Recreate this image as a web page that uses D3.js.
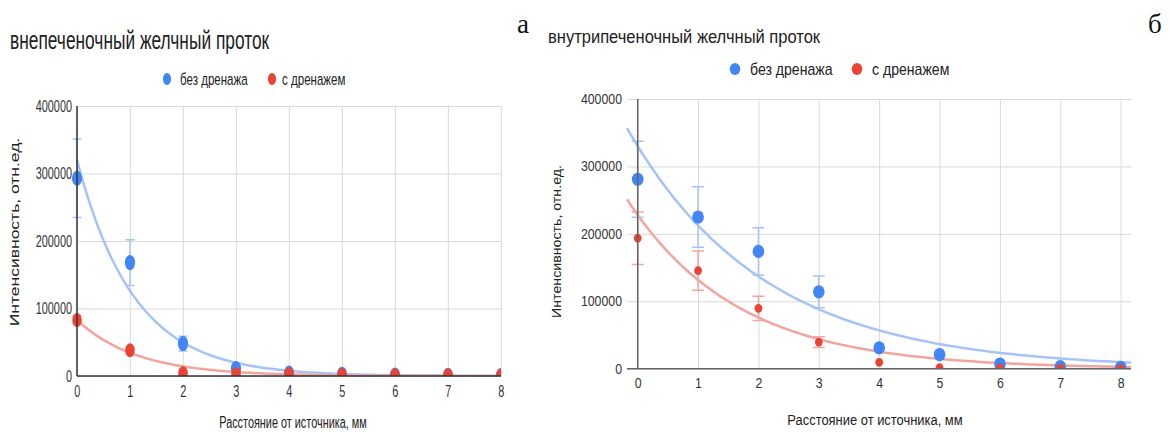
<!DOCTYPE html>
<html>
<head>
<meta charset="utf-8">
<script src="https://cdn.jsdelivr.net/npm/d3@7"></script>
<style>
	body { margin: 0; background: #fff; }
	text { font-family: "Liberation Sans", Arial, sans-serif; }
</style>
</head>
<body>
<div id="chart"></div>
<script>
// data
const distance = [0, 1, 2, 3, 4, 5, 6, 7, 8];
const yTicks = [0, 100000, 200000, 300000, 400000];
const seriesNames = ["без дренажа", "с дренажем"];
const panelTitles = ["внепеченочный желчный проток", "внутрипеченочный желчный проток"];
const panelLetters = ["а", "б"];
const xAxisTitle = "Расстояние от источника, мм";
const yAxisTitle = "Интенсивность, отн.ед.";

// extrahepatic duct (a)
const extraNoDrain = [293000, 168000, 48000, 11000, 4500, 2500, 1500, 1200, 800];
const extraNoDrainErr = [58000, 34000, 11000, 3000, 0, 0, 0, 0, 0];
const extraDrain = [83000, 38000, 4000, 2500, 2500, 1500, 1200, 1000, 800];
const extraDrainErr = [6000, 5000, 0, 0, 0, 0, 0, 0, 0];
const extraNoDrainTrend = [320000, 0.93]; // a * exp(-k x)
const extraDrainTrend = [83000, 0.88];

// intrahepatic duct (б)
const intraNoDrain = [281000, 225000, 174000, 114000, 31000, 21000, 7000, 3000, 2000];
const intraNoDrainErr = [56500, 45000, 35000, 23500, 0, 0, 0, 0, 0];
const intraDrain = [193500, 145500, 89500, 39500, 9500, 1500, 1000, 500, 300];
const intraDrainErr = [39000, 29000, 18000, 8000, 0, 0, 0, 0, 0];
const intraNoDrainTrend = [330000, 0.44];
const intraDrainTrend = [228000, 0.55];

const width = 1169, height = 432;
const blue = "#4285f4", red = "#ea4335";
const blueLight = "#a6c3f7", redLight = "#f3a49d";

const svg = d3.select("#chart").append("svg")
	.attr("width", width)
	.attr("height", height)
	.attr("viewBox", [0, 0, width, height]);

// panel letters
svg.selectAll(".letter")
	.data([[517, 33], [1148, 33]])
	.join("text")
	.attr("x", d => d[0])
	.attr("y", d => d[1])
	.attr("font-size", 27)
	.style("font-family", "'Liberation Serif', 'Times New Roman', serif")
	.attr("fill", "#111")
	.text((d, i) => panelLetters[i]);

// the source screenshot is squeezed horizontally, so each panel is drawn in a scaled group
function drawPanel(cfg) {
	const k = v => v / cfg.sx;
	const g = svg.append("g").attr("transform", `scale(${cfg.sx},1)`);

	const x = d3.scaleLinear([0, 8], [k(cfg.x0), k(cfg.x8)]);
	const y = d3.scaleLinear([0, 400000], [cfg.yBottom, cfg.yTop]);
	const areaL = k(cfg.areaLeft), areaR = k(cfg.areaRight);

	const clipId = "clip" + cfg.id;
	g.append("clipPath").attr("id", clipId)
		.append("rect")
		.attr("x", k(cfg.clipLeft))
		.attr("y", 0)
		.attr("width", areaR - k(cfg.clipLeft))
		.attr("height", cfg.yBottom);

	// title
	g.append("text")
		.attr("x", k(cfg.title[0]))
		.attr("y", cfg.title[1])
		.attr("font-size", cfg.title[2])
		.attr("fill", "#222")
		.text(cfg.titleText);

	// legend
	const leg = g.append("g");
	cfg.legend.forEach((p, i) => {
		leg.append("circle")
			.attr("cx", k(p[0]))
			.attr("cy", cfg.legendY)
			.attr("r", 6)
			.attr("fill", i ? red : blue);
		leg.append("text")
			.attr("x", k(p[1]))
			.attr("y", cfg.legendY + cfg.legendSize * 0.36)
			.attr("font-size", cfg.legendSize)
			.attr("fill", "#222")
			.text(seriesNames[i]);
	});

	// horizontal grid and y tick labels
	g.append("g")
		.attr("transform", `translate(${areaL},0)`)
		.call(d3.axisLeft(y).tickValues(yTicks).tickFormat(d3.format("d"))
			.tickSize(-(areaR - areaL)).tickPadding(k(5)))
		.call(a => a.select(".domain").remove())
		.call(a => a.selectAll(".tick line")
			.attr("stroke", "#d9d9d9")
			.attr("vector-effect", "non-scaling-stroke"))
		.call(a => a.selectAll(".tick text")
			.attr("font-size", cfg.tickSize)
			.attr("fill", "#333"));

	// vertical grid and x tick labels
	g.append("g")
		.attr("transform", `translate(0,${cfg.yBottom})`)
		.call(d3.axisBottom(x).tickValues(distance)
			.tickSize(-(cfg.yBottom - cfg.yTop)).tickPadding(cfg.xPad))
		.call(a => a.select(".domain").remove())
		.call(a => a.selectAll(".tick line")
			.attr("stroke", "#d9d9d9")
			.attr("vector-effect", "non-scaling-stroke"))
		.call(a => a.selectAll(".tick text")
			.attr("font-size", cfg.tickSize)
			.attr("fill", "#333"));

	// axis titles
	g.append("text")
		.attr("x", k(cfg.xTitle[0]))
		.attr("y", cfg.xTitle[1])
		.attr("text-anchor", "middle")
		.attr("font-size", cfg.xTitle[2])
		.attr("fill", "#222")
		.text(xAxisTitle);

	g.append("text")
		.attr("transform", `translate(${k(cfg.yTitle[0])},${cfg.yTitle[1]}) rotate(-90)`)
		.attr("text-anchor", "middle")
		.attr("font-size", cfg.yTitle[2])
		.attr("fill", "#222")
		.text(yAxisTitle);

	const plot = g.append("g").attr("clip-path", `url(#${clipId})`);

	// exponential trend lines
	const trendLine = ([a, b]) => {
		const x0 = x.invert(areaL), x1 = x.invert(areaR);
		const pts = d3.range(0, 121).map(i => x0 + (x1 - x0) * i / 120);
		return d3.line().x(t => x(t)).y(t => y(a * Math.exp(-b * t)))(pts);
	};
	cfg.series.forEach(s => {
		plot.append("path")
			.attr("d", trendLine(s.trend))
			.attr("fill", "none")
			.attr("stroke", s.light)
			.attr("stroke-width", 2.5)
			.attr("vector-effect", "non-scaling-stroke");
	});

	// error bars then points
	cfg.series.forEach(s => {
		const eg = plot.append("g")
			.attr("stroke", s.light)
			.attr("stroke-width", 1.5)
			.attr("fill", "none");
		distance.forEach((d, i) => {
			const e = s.err[i];
			if (!e) return;
			const cx = x(d), top = y(s.values[i] + e), bot = y(s.values[i] - e);
			eg.append("path")
				.attr("d", `M${cx},${top}V${bot}M${cx - cfg.cap},${top}H${cx + cfg.cap}M${cx - cfg.cap},${bot}H${cx + cfg.cap}`)
				.attr("vector-effect", "non-scaling-stroke");
		});
	});
	cfg.series.forEach(s => {
		plot.append("g")
			.selectAll("circle")
			.data(s.values)
			.join("circle")
			.attr("cx", (v, i) => x(distance[i]))
			.attr("cy", v => y(v))
			.attr("r", s.r)
			.attr("fill", s.color);
	});

	// axis lines
	g.append("path")
		.attr("d", `M${x(0)},${cfg.yTop}V${cfg.yBottom}M${areaL},${cfg.yBottom}H${areaR}`)
		.attr("stroke", cfg.axisColor)
		.attr("stroke-width", 1.5)
		.attr("fill", "none")
		.attr("vector-effect", "non-scaling-stroke");
}

drawPanel({
	id: "a", sx: 0.68,
	x0: 77, x8: 501, areaLeft: 77, areaRight: 501, clipLeft: 65,
	yBottom: 376, yTop: 106,
	titleText: panelTitles[0], title: [10, 49, 25.5],
	legend: [[167, 180], [272, 282]], legendY: 79, legendSize: 17,
	tickSize: 16, xPad: 9.5,
	xTitle: [293, 428, 16], yTitle: [19, 232, 17.5],
	axisColor: "#333", cap: 6.6,
	series: [
		{ values: extraNoDrain, err: extraNoDrainErr, trend: extraNoDrainTrend, color: blue, light: blueLight, r: 7.5 },
		{ values: extraDrain, err: extraDrainErr, trend: extraDrainTrend, color: red, light: redLight, r: 7 }
	]
});

drawPanel({
	id: "b", sx: 0.88,
	x0: 637.7, x8: 1120.7, areaLeft: 627, areaRight: 1131, clipLeft: 620,
	yBottom: 368.7, yTop: 99,
	titleText: panelTitles[1], title: [548, 43, 18.8],
	legend: [[735, 750], [857, 872]], legendY: 69, legendSize: 16,
	tickSize: 14, xPad: 9.4,
	xTitle: [875, 425, 14.7], yTitle: [561, 241.5, 14.2],
	axisColor: "#666", cap: 6.8,
	series: [
		{ values: intraNoDrain, err: intraNoDrainErr, trend: intraNoDrainTrend, color: blue, light: blueLight, r: 6.6 },
		{ values: intraDrain, err: intraDrainErr, trend: intraDrainTrend, color: red, light: redLight, r: 4.4 }
	]
});
</script>
</body>
</html>
